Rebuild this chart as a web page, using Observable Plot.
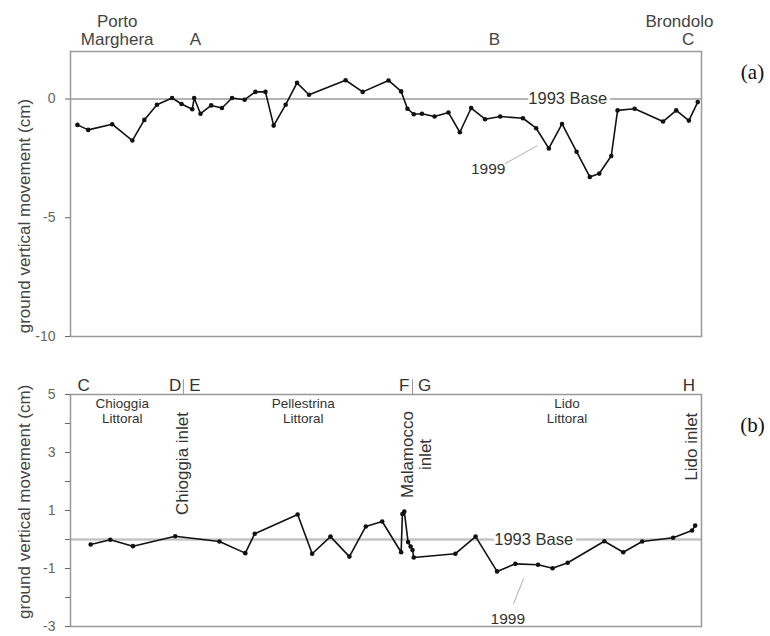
<!DOCTYPE html>
<html>
<head>
<meta charset="utf-8">
<script src="https://cdn.jsdelivr.net/npm/d3@7"></script>
<script src="https://cdn.jsdelivr.net/npm/@observablehq/plot@0.6"></script>
<style>
  html, body { margin: 0; padding: 0; background: #fff; }
  #chart { position: relative; width: 770px; height: 636px; overflow: hidden; }
  #chart svg { position: absolute; left: 0; overflow: visible; }
</style>
</head>
<body>
<div id="chart"></div>
<script>
// ---- Panel (a): Porto Marghera – Brondolo profile (relative distance %, cm) ----
const topDist = [1.1, 2.8, 6.6, 9.8, 11.7, 13.7, 16.1, 17.6, 19.3, 19.6, 20.6, 22.3, 24.0, 25.6, 27.6, 29.3,
  30.9, 32.2, 34.1, 35.9, 37.8, 43.6, 46.3, 50.4, 52.4, 53.4, 54.4, 55.7, 57.7, 59.9, 61.7, 63.5, 65.7,
  68.1, 71.7, 73.8, 75.8, 77.9, 80.2, 82.3, 83.8, 85.7, 86.7, 89.4, 93.9, 96.0, 98.0, 99.4];
const topMove = [-1.09, -1.3, -1.06, -1.75, -0.88, -0.24, 0.04, -0.21, -0.43, 0.04, -0.62, -0.27, -0.38, 0.04, -0.03, 0.3,
  0.3, -1.12, -0.24, 0.68, 0.18, 0.79, 0.3, 0.78, 0.32, -0.41, -0.64, -0.62, -0.74, -0.57, -1.4, -0.38, -0.85,
  -0.74, -0.81, -1.23, -2.08, -1.05, -2.22, -3.28, -3.14, -2.4, -0.48, -0.41, -0.95, -0.48, -0.91, -0.13];
const topTicks = [0, -5, -10];
const topSiteNames = ["Porto\nMarghera", "Brondolo"];
const topSiteDist = [7.4, 96.5];
const topLetters = ["A", "B", "C"];
const topLetterDist = [19.8, 67.2, 97.9];

// ---- Panel (b): littorals C – H (relative distance %, cm) ----
const botDist = [3.2, 6.3, 9.9, 16.6, 23.6, 27.7, 29.2, 36.0, 38.3, 41.2, 44.2, 46.8, 49.4, 52.4, 52.6, 52.9,
  53.5, 53.9, 54.2, 54.4, 61.0, 64.2, 67.6, 70.5, 74.1, 76.4, 78.8, 84.6, 87.6, 90.6, 95.5, 98.5, 99.0];
const botMove = [-0.17, -0.01, -0.23, 0.11, -0.07, -0.47, 0.2, 0.86, -0.49, 0.1, -0.59, 0.45, 0.62, -0.44, 0.88, 0.96,
  -0.09, -0.24, -0.36, -0.62, -0.49, 0.1, -1.1, -0.84, -0.87, -0.99, -0.8, -0.06, -0.44, -0.07, 0.06, 0.31, 0.48];
const botTicks = [5, 4, 3, 2, 1, 0, -1, -2, -3];
const botTickLabels = ["5", "", "3", "", "1", "", "-1", "", "-3"];
const botLetters = ["C", "D", "E", "F", "G", "H"];
const botLetterDist = [2.1, 16.6, 19.7, 52.9, 56.1, 98.0];
const botSeparators = [17.9, 54.2];
const littoralNames = ["Chioggia\nLittoral", "Pellestrina\nLittoral", "Lido\nLittoral"];
const littoralDist = [8.2, 36.9, 78.7];
const inletNames = ["Chioggia inlet", "Malamocco\ninlet", "Lido inlet"];
const inletDist = [17.7, 54.8, 98.3];
const inletLevel = [2.62, 2.93, 3.2];

const yTitle = "ground vertical movement (cm)";
const sans = "'Liberation Sans', Arial, Helvetica, sans-serif";
const serif = "'Liberation Serif', 'Times New Roman', serif";

const topData = topDist.map((d, i) => ({d, v: topMove[i]}));
const botData = botDist.map((d, i) => ({d, v: botMove[i]}));

const topPlot = Plot.plot({
  width: 770, height: 345,
  marginLeft: 70, marginRight: 69, marginTop: 51, marginBottom: 9,
  x: {domain: [0, 100], axis: null},
  y: {domain: [-10, 2], axis: null},
  style: {fontFamily: sans, background: "transparent", overflow: "visible"},
  marks: [
    Plot.ruleY([0], {stroke: "#9a9a9a", strokeWidth: 1.3}),
    Plot.frame({stroke: "#999", strokeWidth: 1.5}),
    Plot.axisY({ticks: topTicks, tickFormat: d => String(d), tickSize: 5, tickPadding: 10, fontSize: 14, color: "#666", label: null}),
    Plot.text([yTitle], {y: [-4.93], frameAnchor: "left", textAnchor: "middle", dx: -46, rotate: -90, fontSize: 17, fill: "#444", ariaLabel: "ytitle"}),
    Plot.text(["1993 Base"], {x: [78.8], y: [0], fontSize: 16.5, fill: "#333", stroke: "white", strokeWidth: 7}),
    Plot.link([0], {x1: [74.0], y1: [-1.96], x2: [68.9], y2: [-2.72], stroke: "#999", strokeWidth: 0.8}),
    Plot.text(["1999"], {x: [66.2], y: [-2.93], fontSize: 15.5, fill: "#333"}),
    Plot.line(topData, {x: "d", y: "v", stroke: "#111", strokeWidth: 1.6}),
    Plot.dot(topData, {x: "d", y: "v", r: 2.3, fill: "#111"}),
    Plot.text([topSiteNames[0]], {x: [topSiteDist[0]], frameAnchor: "top", dy: -21, lineAnchor: "middle", lineHeight: 1.07, fontSize: 17, fill: "#444"}),
    Plot.text([topSiteNames[1]], {x: [topSiteDist[1]], frameAnchor: "top", dy: -30, lineAnchor: "middle", fontSize: 17, fill: "#444"}),
    Plot.text(topLetters, {x: (_, i) => topLetterDist[i], text: d => d, frameAnchor: "top", dy: -12, lineAnchor: "middle", fontSize: 17, fill: "#444"}),
    Plot.text(["(a)"], {x: [100], y: [1.12], dx: 51, fontSize: 21, fontFamily: serif, fill: "#111"})
  ]
});
topPlot.style.top = "0px";

const botPlot = Plot.plot({
  width: 770, height: 291,
  marginLeft: 70, marginRight: 69, marginTop: 49, marginBottom: 10,
  x: {domain: [0, 100], axis: null},
  y: {domain: [-3, 5], axis: null},
  style: {fontFamily: sans, background: "transparent", overflow: "visible"},
  marks: [
    Plot.ruleY([0], {stroke: "#c4c4c4", strokeWidth: 2.4}),
    Plot.frame({stroke: "#999", strokeWidth: 1.5}),
    Plot.axisY({ticks: botTicks, tickFormat: d => botTickLabels[botTicks.indexOf(d)], tickSize: 5, tickPadding: 10, fontSize: 14, color: "#666", label: null}),
    Plot.text([yTitle], {y: [1.30], frameAnchor: "left", textAnchor: "middle", dx: -46, rotate: -90, fontSize: 17, fill: "#444", ariaLabel: "ytitle"}),
    Plot.text(["1993 Base"], {x: [73.4], y: [0], fontSize: 16.5, fill: "#333", stroke: "white", strokeWidth: 7}),
    Plot.link([0], {x1: [71.8], y1: [-1.35], x2: [70.2], y2: [-2.22], stroke: "#999", strokeWidth: 0.8}),
    Plot.text(["1999"], {x: [69.3], y: [-2.73], fontSize: 15.5, fill: "#333"}),
    Plot.line(botData, {x: "d", y: "v", stroke: "#111", strokeWidth: 1.6}),
    Plot.dot(botData, {x: "d", y: "v", r: 2.3, fill: "#111"}),
    Plot.ruleX(botSeparators, {y1: 5, y2: 5.5, stroke: "#999", strokeWidth: 1}),
    Plot.text(botLetters, {x: (_, i) => botLetterDist[i], text: d => d, frameAnchor: "top", dy: -9, lineAnchor: "middle", fontSize: 17, fill: "#333"}),
    Plot.text(littoralNames, {x: (_, i) => littoralDist[i], text: d => d, frameAnchor: "top", dy: 16.5, lineAnchor: "middle", lineHeight: 1.1, fontSize: 13.5, fill: "#333"}),
    Plot.text(inletNames, {x: (_, i) => inletDist[i], y: (_, i) => inletLevel[i], text: d => d, rotate: -90, lineAnchor: "middle", lineHeight: 1.08, fontSize: 17, fill: "#333"}),
    Plot.text(["(b)"], {x: [100], y: [3.93], dx: 51, fontSize: 21, fontFamily: serif, fill: "#111"})
  ]
});
botPlot.style.top = "345px";

const chart = document.getElementById("chart");
chart.append(topPlot, botPlot);
chart.querySelectorAll('g[aria-label="ytitle"] text').forEach(t => t.setAttribute("letter-spacing", "1.3"));
</script>
</body>
</html>
